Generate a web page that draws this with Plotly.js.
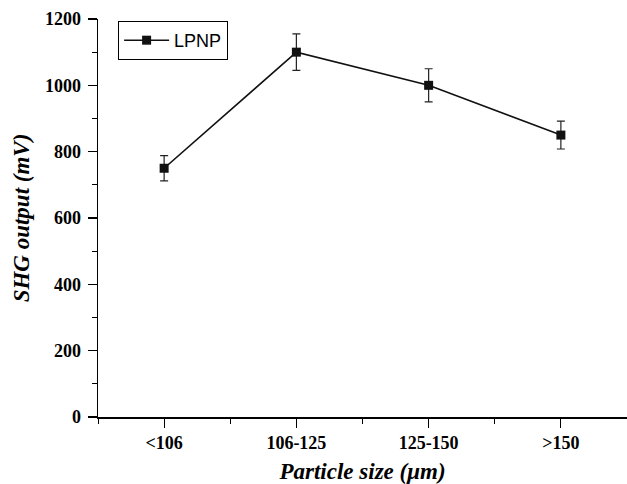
<!DOCTYPE html>
<html><head><meta charset="utf-8">
<script src="https://cdn.plot.ly/plotly-3.0.1.min.js"></script>
<style>html,body{margin:0;padding:0;background:#fff;}#chart{width:627px;height:484px;}</style>
</head><body><div id="chart"></div>
<script>
const categories = ["<106", "106-125", "125-150", ">150"];
const shgOutput = [750, 1100, 1000, 850];
const shgError = [38, 55, 50, 42];
const yTickVals = [0, 200, 400, 600, 800, 1000, 1200];

const xIdx = categories.map((_, i) => i);

const trace = {
  x: xIdx, y: shgOutput, name: "LPNP", type: "scatter", mode: "lines+markers",
  line: {color: "#111", width: 1.6},
  marker: {symbol: "square", size: 9, color: "#111"},
  error_y: {type: "data", array: shgError, visible: true, color: "#222", thickness: 1.2, width: 4}
};

const serif = "Liberation Serif, Times New Roman, serif";
const layout = {
  width: 627, height: 484,
  margin: {l: 98, r: 0, t: 19, b: 67},
  paper_bgcolor: "#fff", plot_bgcolor: "#fff",
  showlegend: true,
  legend: {x: 0.038, y: 0.995, xanchor: "left", yanchor: "top", bordercolor: "#000", borderwidth: 1,
           itemwidth: 45, tracegroupgap: 0,
           font: {family: "Liberation Sans, Arial, sans-serif", size: 18, color: "#000"}, bgcolor: "#fff"},
  xaxis: {
    range: [-0.5, 3.5], tickvals: xIdx, ticktext: categories,
    showline: true, linecolor: "#000", linewidth: 1.5, showgrid: false, zeroline: false,
    ticks: "outside", ticklen: 9, tickwidth: 1.2, tickcolor: "#000",
    minor: {tick0: 0.5, dtick: 1, ticks: "outside", ticklen: 5, tickwidth: 1, tickcolor: "#000", showgrid: false},
    tickfont: {family: serif, size: 18, color: "#000", weight: "bold"},
    title: {text: "<b><i>Particle size (μm)</i></b>", font: {family: serif, size: 23, color: "#000"}, standoff: 14}
  },
  yaxis: {
    range: [0, 1200], tickvals: yTickVals,
    showline: true, linecolor: "#000", linewidth: 1.5, showgrid: false, zeroline: false,
    ticks: "outside", ticklen: 9, tickwidth: 1.2, tickcolor: "#000", ticklabelstandoff: 3,
    minor: {dtick: 100, ticks: "outside", ticklen: 5, tickwidth: 1, tickcolor: "#000", showgrid: false},
    tickfont: {family: serif, size: 18, color: "#000", weight: "bold"},
    title: {text: "<b><i>SHG output (mV)</i></b>", font: {family: serif, size: 23, color: "#000"}, standoff: 9}
  }
};
Plotly.newPlot("chart", [trace], layout, {displayModeBar: false, staticPlot: true});
</script></body></html>
